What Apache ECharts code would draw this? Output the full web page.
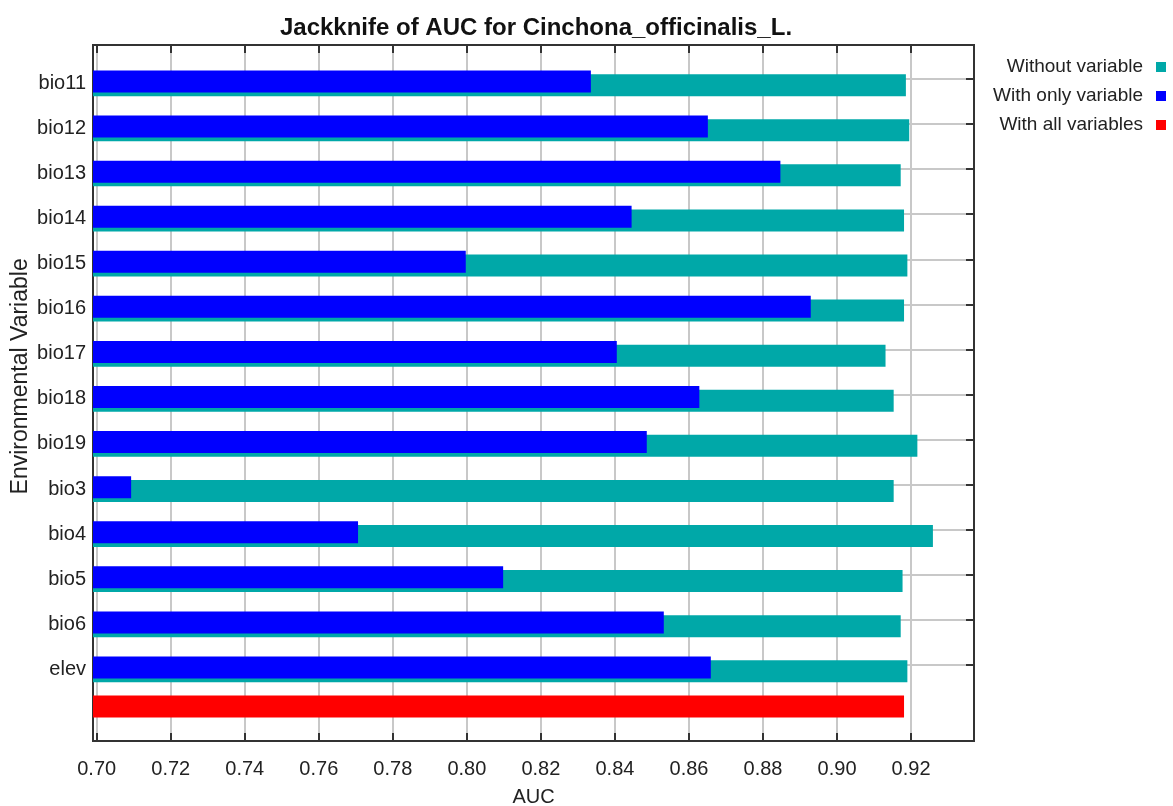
<!DOCTYPE html>
<html>
<head>
<meta charset="utf-8">
<title>Jackknife of AUC</title>
<script src="https://cdn.jsdelivr.net/npm/echarts@6/dist/echarts.min.js"></script>
<style>
  html, body { margin: 0; padding: 0; background: #fff; }
  #chart { width: 1173px; height: 806px; }
</style>
</head>
<body>
<div id="chart"></div>
<script>
// variables, top to bottom
const variables = ["bio11", "bio12", "bio13", "bio14", "bio15", "bio16", "bio17",
  "bio18", "bio19", "bio3", "bio4", "bio5", "bio6", "elev"];
// AUC of the model built without each variable
const withoutVar = [0.9186, 0.9195, 0.9172, 0.9181, 0.9190, 0.9181, 0.9131,
  0.9153, 0.9217, 0.9153, 0.9259, 0.9177, 0.9172, 0.9190];
// AUC of the model built with only that variable
const withOnlyVar = [0.8335, 0.8651, 0.8847, 0.8445, 0.7997, 0.8929, 0.8405,
  0.8628, 0.8486, 0.7093, 0.7706, 0.8098, 0.8532, 0.8659];
// AUC with all variables
const withAll = [0.9181];
const aucTicks = [0.70, 0.72, 0.74, 0.76, 0.78, 0.80, 0.82, 0.84, 0.86, 0.88, 0.90, 0.92];

const xMin = 0.699;
const xMax = 0.937;
const font = "Liberation Sans";
const cyan = "#00a8a8";
const blue = "#0000ff";
const red = "#ff0000";

const chart = echarts.init(document.getElementById("chart"));

// hidden x axis that shares the scale of the frame
function hiddenX(gridIndex) {
  return { type: "value", gridIndex: gridIndex, min: xMin, max: xMax, show: false };
}

// every grid uses the same horizontal extent as the frame
function grid(extra) {
  return Object.assign({ left: 93, right: 199, outerBoundsMode: "none", containLabel: false }, extra);
}

chart.setOption({
  animation: false,
  backgroundColor: "#fff",
  textStyle: { fontFamily: font },
  title: {
    text: "Jackknife of AUC for Cinchona_officinalis_L.",
    left: 531,
    top: 11,
    textAlign: "center",
    textStyle: { fontFamily: font, fontSize: 24, fontWeight: "bold", color: "#111" },
  },
  legend: {
    orient: "vertical",
    right: 7,
    top: 57,
    padding: 0,
    align: "right",
    itemWidth: 10,
    itemHeight: 10,
    itemGap: 9,
    icon: "rect",
    data: ["Without variable", "With only variable", "With all variables"],
    textStyle: { fontFamily: font, fontSize: 19, color: "#222", lineHeight: 20, padding: [0, 8, 0, 0] },
  },
  grid: [
    // frame with AUC axis
    grid({ top: 45, bottom: 65, show: true, borderColor: "#333", borderWidth: 2, backgroundColor: "#fff" }),
    // variable rows
    grid({ top: 60.8, height: 631.1 }),
    // all variables row
    grid({ top: 695.5, height: 22 }),
    // row ticks on the right
    grid({ top: 79, height: 586 }),
  ],
  xAxis: [
    {
      type: "value",
      gridIndex: 0,
      min: xMin,
      max: xMax,
      name: "AUC",
      nameLocation: "middle",
      nameGap: 46,
      nameTextStyle: { fontFamily: font, fontSize: 20, color: "#222" },
      axisLine: { show: false },
      axisTick: { inside: true, length: 8, customValues: aucTicks, lineStyle: { color: "#333", width: 2 } },
      axisLabel: {
        customValues: aucTicks,
        margin: 18,
        fontFamily: font,
        fontSize: 20,
        color: "#222",
        formatter: (v) => v.toFixed(2),
      },
      splitLine: { show: true, lineStyle: { color: "#c8c8c8", width: 2 } },
    },
    {
      type: "value",
      gridIndex: 0,
      position: "top",
      min: xMin,
      max: xMax,
      axisLine: { show: false },
      axisTick: { inside: true, length: 8, customValues: aucTicks, lineStyle: { color: "#333", width: 2 } },
      axisLabel: { show: false },
      splitLine: { show: false },
    },
    hiddenX(1),
    hiddenX(2),
    hiddenX(3),
  ],
  yAxis: [
    { type: "value", gridIndex: 0, show: false },
    {
      type: "category",
      gridIndex: 1,
      inverse: true,
      data: variables,
      name: "Environmental Variable",
      nameLocation: "middle",
      nameRotate: 90,
      nameGap: 61,
      nameMoveOverlap: false,
      nameTextStyle: { fontFamily: font, fontSize: 23, color: "#222" },
      axisLine: { show: false },
      axisTick: { show: false },
      axisLabel: { margin: 7, fontFamily: font, fontSize: 20, color: "#222", interval: 0, padding: [6, 0, 0, 0] },
      splitLine: { show: false },
    },
    { type: "category", gridIndex: 2, data: [""], show: false },
    {
      type: "category",
      gridIndex: 3,
      inverse: true,
      position: "right",
      boundaryGap: false,
      data: variables,
      axisLine: { show: false },
      axisLabel: { show: false },
      axisTick: { inside: true, length: 8, interval: 0, lineStyle: { color: "#333", width: 2 } },
      splitLine: { show: true, interval: 0, lineStyle: { color: "#c8c8c8", width: 2 } },
    },
  ],
  series: [
    {
      name: "With only variable",
      type: "bar",
      xAxisIndex: 2,
      yAxisIndex: 1,
      barWidth: 22,
      barGap: "-83%",
      itemStyle: { color: blue },
      z: 3,
      data: withOnlyVar,
    },
    {
      name: "Without variable",
      type: "bar",
      xAxisIndex: 2,
      yAxisIndex: 1,
      barWidth: 22,
      barGap: "-83%",
      itemStyle: { color: cyan },
      z: 2,
      data: withoutVar,
    },
    {
      name: "With all variables",
      type: "bar",
      xAxisIndex: 3,
      yAxisIndex: 2,
      barWidth: 22,
      itemStyle: { color: red },
      data: withAll,
    },
  ],
});
</script>
</body>
</html>
